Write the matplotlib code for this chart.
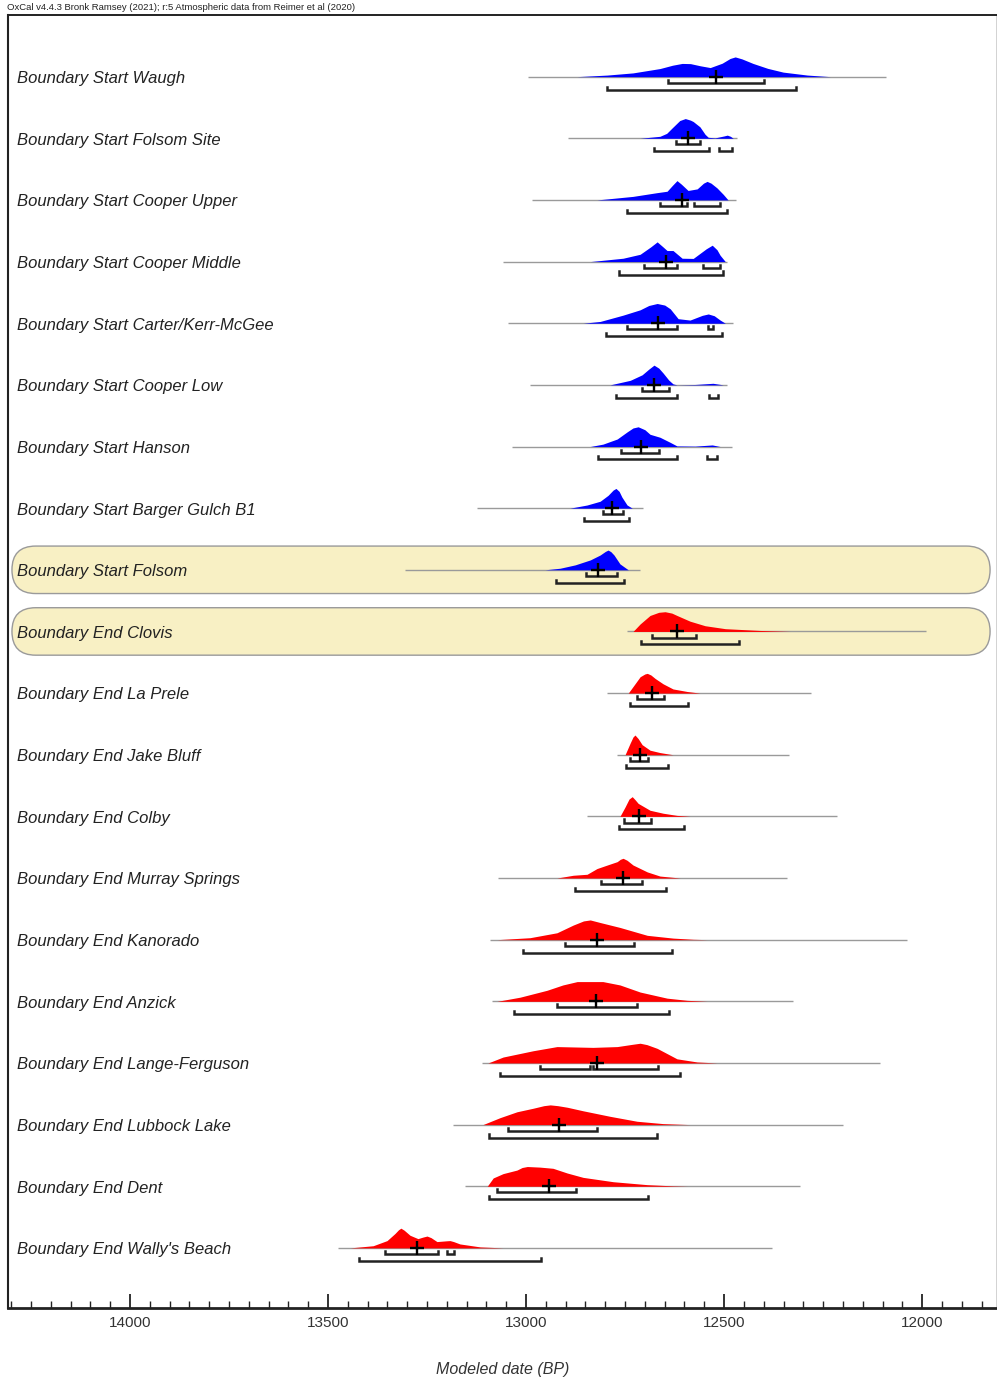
import numpy as np
import matplotlib.pyplot as plt
from matplotlib.patches import FancyBboxPatch
from matplotlib.transforms import IdentityTransform, blended_transform_factory
from matplotlib.ticker import MultipleLocator

plt.rcParams['font.family'] = ['Liberation Sans', 'DejaVu Sans']

# ---- datos (fechas en anos BP) ----
labels = [
    "Boundary Start Waugh", "Boundary Start Folsom Site", "Boundary Start Cooper Upper",
    "Boundary Start Cooper Middle", "Boundary Start Carter/Kerr-McGee", "Boundary Start Cooper Low",
    "Boundary Start Hanson", "Boundary Start Barger Gulch B1", "Boundary Start Folsom",
    "Boundary End Clovis", "Boundary End La Prele", "Boundary End Jake Bluff",
    "Boundary End Colby", "Boundary End Murray Springs", "Boundary End Kanorado",
    "Boundary End Anzick", "Boundary End Lange-Ferguson", "Boundary End Lubbock Lake",
    "Boundary End Dent", "Boundary End Wally's Beach",
]
highlighted = ["Boundary Start Folsom", "Boundary End Clovis"]

line_ends = [
    (12995, 12091), (12894, 12467), (12985, 12470), (13058, 12492), (13045, 12477),
    (12990, 12492), (13035, 12480), (13124, 12705), (13306, 12712), (12745, 11990),
    (12795, 12280), (12770, 12336), (12846, 12215), (13071, 12341), (13091, 12038),
    (13086, 12326), (13111, 12106), (13184, 12199), (13154, 12308), (13475, 12379),
]

dens_years = [
    [12871, 12795, 12730, 12662, 12630, 12606, 12585, 12560, 12535, 12505, 12485, 12472,
     12455, 12427, 12390, 12351, 12290, 12232],
    [12712, 12662, 12645, 12631, 12612, 12598, 12585, 12578, 12561, 12548, 12540, 12523,
     12500, 12492, 12484, 12477],
    [12821, 12730, 12669, 12644, 12630, 12619, 12608, 12591, 12568, 12552, 12543, 12533,
     12518, 12502, 12490],
    [12838, 12755, 12712, 12685, 12669, 12654, 12644, 12629, 12606, 12578, 12545, 12530,
     12518, 12510, 12497],
    [12856, 12813, 12755, 12712, 12690, 12669, 12650, 12636, 12616, 12586, 12555, 12540,
     12525, 12510, 12497],
    [12788, 12737, 12707, 12690, 12677, 12665, 12654, 12640, 12629, 12619, 12573, 12528, 12502],
    [12838, 12806, 12770, 12745, 12730, 12717, 12700, 12687, 12662, 12636, 12619, 12573,
     12530, 12510],
    [12889, 12846, 12813, 12793, 12780, 12773, 12765, 12758, 12745, 12732],
    [12952, 12914, 12876, 12838, 12813, 12800, 12793, 12786, 12778, 12763, 12742],
    [12730, 12712, 12687, 12665, 12649, 12632, 12619, 12586, 12548, 12497, 12409, 12333],
    [12742, 12725, 12712, 12700, 12694, 12685, 12674, 12654, 12629, 12593, 12561],
    [12750, 12737, 12730, 12725, 12717, 12707, 12687, 12662, 12629],
    [12763, 12750, 12740, 12732, 12725, 12717, 12687, 12654, 12619, 12586],
    [12922, 12881, 12846, 12821, 12795, 12770, 12762, 12755, 12745, 12730, 12694, 12662, 12611],
    [13073, 12990, 12922, 12881, 12855, 12838, 12813, 12763, 12694, 12629, 12578, 12543],
    [13073, 13015, 12947, 12907, 12871, 12806, 12763, 12712, 12644, 12593, 12543],
    [13096, 13058, 12982, 12922, 12831, 12770, 12730, 12712, 12695, 12669, 12619, 12568, 12518],
    [13109, 13066, 13023, 12982, 12955, 12939, 12920, 12896, 12856, 12788, 12720, 12654, 12586],
    [13098, 13083, 13058, 13023, 13010, 12997, 12965, 12932, 12896, 12856, 12780, 12694,
     12629, 12593],
    [13444, 13386, 13351, 13331, 13322, 13316, 13308, 13293, 13273, 13260, 13250, 13240,
     13225, 13200, 13192, 13183, 13167, 13116, 13058],
]

dens_probs = [
    [0, .08, .19, .41, .58, .67, .66, .55, .46, .68, .92, 1.0, .9, .67, .42, .23, .08, 0],
    [0, .1, .25, .53, .9, 1.0, .92, .85, .58, .2, .05, .02, .12, .16, .1, 0],
    [0, .18, .37, .44, .75, .98, .8, .48, .56, .85, .94, .85, .61, .28, 0],
    [0, .17, .37, .75, 1.0, .74, .56, .56, .17, .16, .65, .83, .6, .32, 0],
    [0, .09, .41, .68, .9, 1.0, .92, .73, .23, .16, .4, .47, .38, .16, 0],
    [0, .23, .51, .8, 1.0, .85, .6, .25, .05, 0, .02, .08, 0],
    [0, .12, .38, .74, .94, 1.0, .85, .62, .47, .21, .03, .02, .08, 0],
    [0, .16, .35, .65, .92, 1.0, .85, .56, .16, 0],
    [0, .08, .25, .5, .75, .93, 1.0, .92, .75, .3, 0],
    [0, .38, .81, .97, 1.0, .93, .81, .52, .29, .14, .05, 0],
    [0, .47, .83, .97, 1.0, .92, .74, .47, .21, .08, 0],
    [0, .6, .9, 1.0, .82, .51, .23, .11, 0],
    [0, .48, .88, 1.0, .85, .66, .31, .16, .05, 0],
    [0, .14, .19, .48, .66, .83, .95, 1.0, .9, .66, .31, .1, 0],
    [0, .1, .35, .74, .95, 1.0, .87, .62, .22, .08, .02, 0],
    [0, .21, .56, .83, 1.0, 1.0, .83, .47, .16, .05, 0],
    [0, .3, .62, .83, .79, .83, .95, 1.0, .93, .74, .21, .05, 0],
    [0, .35, .65, .83, .96, 1.0, .96, .88, .7, .42, .17, .05, 0],
    [0, .42, .64, .82, .95, 1.0, .97, .91, .67, .45, .23, .08, .02, 0],
    [0, .11, .37, .73, .92, 1.0, .9, .64, .47, .55, .6, .52, .32, .36, .37, .32, .2, .05, 0],
]

cross_pos = [12520, 12591, 12606, 12646, 12667, 12677, 12710, 12783, 12818, 12619,
             12682, 12712, 12715, 12755, 12821, 12823, 12821, 12917, 12942, 13275]

hpd68 = [
    [(12641, 12399)], [(12621, 12561)], [(12662, 12593), (12576, 12510)],
    [(12702, 12619), (12553, 12510)], [(12745, 12619), (12540, 12528)], [(12707, 12639)],
    [(12760, 12664)], [(12806, 12755)], [(12848, 12770)], [(12682, 12571)],
    [(12720, 12651)], [(12737, 12692)], [(12752, 12684)], [(12811, 12707)],
    [(12901, 12727)], [(12922, 12720)], [(12965, 12838), (12831, 12667)],
    [(13045, 12821)], [(13073, 12874)], [(13356, 13222), (13199, 13182)],
]
hpd95 = [
    [(12795, 12318)], [(12677, 12538), (12513, 12480)], [(12745, 12492)],
    [(12765, 12502)], [(12798, 12505)], [(12773, 12619), (12538, 12515)],
    [(12818, 12619), (12543, 12518)], [(12854, 12740)], [(12924, 12752)], [(12710, 12462)],
    [(12737, 12591)], [(12747, 12641)], [(12765, 12601)], [(12876, 12646)],
    [(13008, 12631)], [(13030, 12639)], [(13066, 12611)], [(13093, 12669)],
    [(13093, 12692)], [(13422, 12962)],
]

header = "OxCal v4.4.3 Bronk Ramsey (2021); r:5 Atmospheric data from Reimer et al (2020)"

# ---- figura ----
fig = plt.figure(figsize=(9.97, 13.79), dpi=100)
ax = fig.add_axes([8 / 997, 1 - 1308 / 1379, 989 / 997, 1293 / 1379])
ax.set_xlim(14308, 11811)
ax.set_ylim(19.975, -1.0)

peak_h = 0.32
off68, off95, hook = 0.10, 0.21, 0.05
label_tr = blended_transform_factory(ax.transAxes, ax.transData)

for i, lab in enumerate(labels):
    colour = '#0000ff' if 'Start' in lab else '#ff0000'
    ax.plot(line_ends[i], [i, i], color='#9a9a9a', lw=1.0, zorder=2, solid_capstyle='butt')
    ys = np.array(dens_probs[i]) * peak_h
    ax.fill_between(dens_years[i], i, i - ys, color=colour, lw=0, zorder=3)
    for off, ranges in ((off68, hpd68[i]), (off95, hpd95[i])):
        for a, b in ranges:
            ax.plot([a, a, b, b], [i + off - hook, i + off, i + off, i + off - hook],
                    color='#222222', lw=1.8, zorder=4, solid_joinstyle='miter')
    ax.plot(cross_pos[i], i, marker='+', ms=10, mew=1.7, color='black', zorder=5)
    ax.text(0.009, i + 0.03, lab, transform=label_tr, ha='left', va='center',
            fontsize=12, style='italic', color='#222222', zorder=6)

# cajas redondeadas de los grupos destacados
for lab in highlighted:
    i = labels.index(lab)
    x0 = ax.transAxes.transform((0.004, 0))[0]
    x1 = ax.transAxes.transform((0.993, 0))[0]
    ya = ax.transData.transform((12000, i - 0.385))[1]
    yb = ax.transData.transform((12000, i + 0.385))[1]
    h = abs(ya - yb)
    box = FancyBboxPatch((x0, min(ya, yb)), x1 - x0, h,
                         boxstyle=f"round,pad=0,rounding_size={h / 2}",
                         transform=IdentityTransform(), facecolor='#f8f0c4',
                         edgecolor='#9a9a9a', lw=1.0, zorder=1)
    ax.add_patch(box)

ax.set_yticks([])
ax.xaxis.set_major_locator(MultipleLocator(500))
ax.xaxis.set_minor_locator(MultipleLocator(50))
ax.tick_params(axis='x', which='major', direction='in', length=10, width=1.3,
               labelsize=11, pad=6, colors='#222222')
ax.tick_params(axis='x', which='minor', direction='in', length=5, width=1.0, color='#222222')
ax.tick_params(axis='x', labelcolor='#333333')
ax.set_xlabel('Modeled date (BP)', fontsize=11.5, style='italic', labelpad=23, color='#333333')

ax.spines['bottom'].set_linewidth(2.0)
ax.spines['left'].set_linewidth(1.5)
ax.spines['top'].set_linewidth(1.4)
ax.spines['right'].set_linewidth(1.0)
for s in ax.spines.values():
    s.set_color('#222222')

fig.text(7 / 997, 1 - 8 / 1379, header, fontsize=6.8, ha='left', va='center', color='#222222')

fig.savefig('out.png', dpi=100)
